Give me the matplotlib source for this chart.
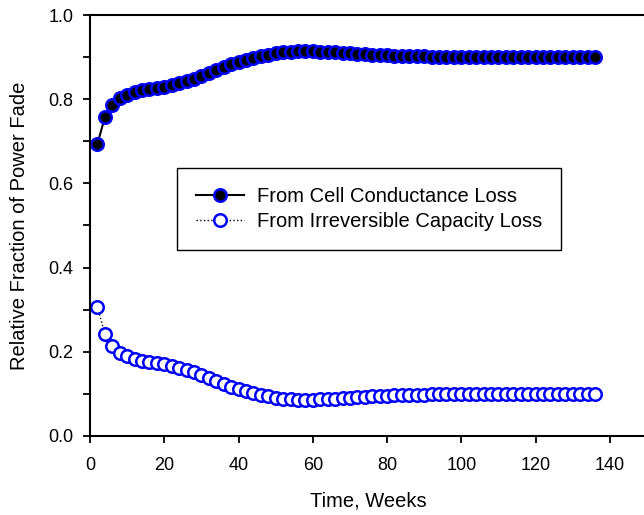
import matplotlib.pyplot as plt
from matplotlib.ticker import MultipleLocator

plt.rcParams["font.family"] = ["Liberation Sans", "DejaVu Sans"]

weeks = [2, 4, 6, 8, 10, 12, 14, 16, 18, 20,
         22, 24, 26, 28, 30, 32, 34, 36, 38, 40,
         42, 44, 46, 48, 50, 52, 54, 56, 58, 60,
         62, 64, 66, 68, 70, 72, 74, 76, 78, 80,
         82, 84, 86, 88, 90, 92, 94, 96, 98, 100,
         102, 104, 106, 108, 110, 112, 114, 116, 118, 120,
         122, 124, 126, 128, 130, 132, 134, 136]

conductance_loss = [0.694, 0.757, 0.787, 0.802, 0.811, 0.817, 0.821, 0.824, 0.827, 0.830,
                    0.834, 0.838, 0.843, 0.849, 0.856, 0.863, 0.870, 0.877, 0.883, 0.889,
                    0.894, 0.899, 0.903, 0.906, 0.909, 0.911, 0.913, 0.914, 0.914, 0.914,
                    0.913, 0.912, 0.911, 0.910, 0.909, 0.908, 0.907, 0.906, 0.905, 0.904,
                    0.903, 0.903, 0.902, 0.902, 0.902, 0.901, 0.901, 0.901, 0.901, 0.901,
                    0.900, 0.900, 0.900, 0.900, 0.900, 0.900, 0.900, 0.900, 0.900, 0.900,
                    0.900, 0.900, 0.900, 0.900, 0.900, 0.900, 0.900, 0.900]

capacity_loss = [0.306, 0.243, 0.213, 0.198, 0.189, 0.183, 0.179, 0.176, 0.173, 0.170,
                 0.166, 0.162, 0.157, 0.151, 0.144, 0.137, 0.130, 0.123, 0.117, 0.111,
                 0.106, 0.101, 0.097, 0.094, 0.091, 0.089, 0.087, 0.086, 0.086, 0.086,
                 0.087, 0.088, 0.089, 0.090, 0.091, 0.092, 0.093, 0.094, 0.095, 0.096,
                 0.097, 0.097, 0.098, 0.098, 0.098, 0.099, 0.099, 0.099, 0.099, 0.099,
                 0.100, 0.100, 0.100, 0.100, 0.100, 0.100, 0.100, 0.100, 0.100, 0.100,
                 0.100, 0.100, 0.100, 0.100, 0.100, 0.100, 0.100, 0.100]

W, H = 644, 515
fig = plt.figure(figsize=(W / 100, H / 100), dpi=100)
ax = fig.add_axes([90 / W, 1 - 436 / H, 557 / W, 421 / H])

ax.plot(weeks, conductance_loss, "-o", color="black", lw=1.5, ms=9,
        mfc="black", mec="blue", mew=1.8, label="From Cell Conductance Loss")
ax.plot(weeks, capacity_loss, ":o", color="black", lw=1.0, ms=9,
        mfc="white", mec="blue", mew=1.8, label="From Irreversible Capacity Loss")

ax.set_xlim(0, 150)
ax.set_ylim(0, 1.0)
ax.set_xticks([0, 20, 40, 60, 80, 100, 120, 140])
ax.set_yticks([0.0, 0.2, 0.4, 0.6, 0.8, 1.0])
ax.yaxis.set_minor_locator(MultipleLocator(0.1))
ax.yaxis.set_major_formatter(plt.FormatStrFormatter("%.1f"))
ax.tick_params(direction="out", length=5, width=1.3, labelsize=13, colors="black", pad=7)
ax.tick_params(axis="x", pad=10)
ax.tick_params(axis="y", which="minor", direction="out", length=5, width=1.3)
ax.tick_params(top=False, right=False)
for side in ["left", "bottom", "top"]:
    ax.spines[side].set_linewidth(1.5)
ax.spines["right"].set_visible(False)

ax.set_xlabel("Time, Weeks", fontsize=14.5, labelpad=13)
ax.set_ylabel("Relative Fraction of Power Fade", fontsize=14.5, labelpad=14)

leg = ax.legend(loc="upper left", bbox_to_anchor=(177 / W, 1 - 168 / H),
                bbox_transform=fig.transFigure, borderaxespad=0, fontsize=14.5,
                fancybox=False, edgecolor="black", framealpha=1,
                handlelength=2.4, borderpad=0.95, labelspacing=0.3,
                handletextpad=0.6, markerscale=1.0)
leg.get_frame().set_linewidth(1.0)

fig.savefig("out.png", dpi=100)
